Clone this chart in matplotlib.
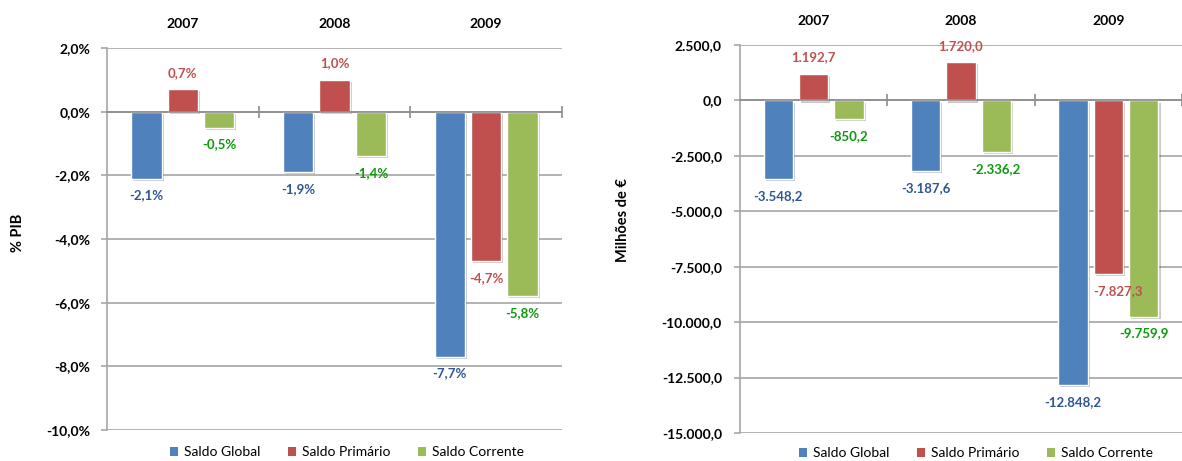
# Saldos orçamentais 2007-2009: % PIB e milhões de euros

import numpy as np
import matplotlib.pyplot as plt
import matplotlib.patheffects as pe
from matplotlib.patches import Patch
from matplotlib.ticker import FixedLocator, FuncFormatter

plt.rcParams['font.family'] = ['Lato', 'DejaVu Sans']

# Data
years = ["2007", "2008", "2009"]
series = ["Saldo Global", "Saldo Primário", "Saldo Corrente"]
pib_global = [-2.1, -1.9, -7.7]
pib_primario = [0.7, 1.0, -4.7]
pib_corrente = [-0.5, -1.4, -5.8]
eur_global = [-3548.2, -3187.6, -12848.2]
eur_primario = [1192.7, 1720.0, -7827.3]
eur_corrente = [-850.2, -2336.2, -9759.9]

bar_colors = ["#4F81BD", "#C0504D", "#9BBB59"]
label_colors = ["#2F5597", "#C0504D", "#0B9A0B"]
grid_col = "#A6A6A6"


def fmt_pt(v, dec=1):
    s = f"{v:,.{dec}f}"
    return s.replace(",", "X").replace(".", ",").replace("X", ".")


def draw_panel(ax, data, ylim, ystep, tick_fmt, lab_fmt, xmax, tick_pad, shifts=None):
    shifts = shifts or {}
    x = np.arange(len(years))
    shadow = [pe.SimplePatchShadow(offset=(1.5, -1.5), alpha=0.25), pe.Normal()]
    for i, vals in enumerate(data):
        pos = x + (i - 1) * 0.24
        bars = ax.bar(pos, vals, width=0.2, color=bar_colors[i],
                      edgecolor="white", linewidth=1.0, zorder=3)
        for b in bars:
            b.set_path_effects(shadow)
        for j, (px, v) in enumerate(zip(pos, vals)):
            off = 12 if v > 0 else -12
            dx = shifts.get((i, j), 0)
            ax.annotate(lab_fmt(v), xy=(px, v), xytext=(dx, off),
                        textcoords="offset points", ha="center", va="center",
                        fontsize=9.5, fontweight="bold", color=label_colors[i],
                        zorder=6)

    ax.set_xlim(-0.5, xmax)
    ax.set_ylim(*ylim)
    ax.yaxis.set_major_locator(FixedLocator(np.arange(ylim[0], ylim[1] + ystep / 2, ystep)))
    ax.yaxis.set_major_formatter(FuncFormatter(lambda v, p: tick_fmt(v)))
    ax.grid(axis="y", color=grid_col, linewidth=1.2, zorder=0)
    ax.set_axisbelow(True)

    for s in ["top", "right"]:
        ax.spines[s].set_visible(False)
    ax.spines["left"].set_color(grid_col)
    ax.spines["left"].set_linewidth(1.2)
    ax.spines["bottom"].set_position(("data", 0))
    ax.spines["bottom"].set_color("#8C8C8C")
    ax.spines["bottom"].set_linewidth(1.2)
    ax.spines["bottom"].set_zorder(4)

    ax.set_xticks([])
    ax.set_xticks([0.5, 1.5, 2.5], minor=True)
    ax.tick_params(axis="x", which="minor", direction="inout", length=8,
                   width=1.2, color="#8C8C8C", labelbottom=False)
    ax.tick_params(axis="y", length=4, width=1.2, color=grid_col, pad=tick_pad,
                   labelsize=10)
    for t in ax.get_yticklabels():
        t.set_fontweight("bold")

    for i, yr in enumerate(years):
        ax.annotate(yr, xy=(i, 1), xycoords=("data", "axes fraction"),
                    xytext=(0, 17), textcoords="offset points",
                    ha="center", va="center", fontsize=10, fontweight="bold")


fig = plt.figure(figsize=(11.82, 4.61), dpi=100)

ax1 = fig.add_axes([107 / 1182, 1 - 430 / 461, 455 / 1182, 382 / 461])
draw_panel(ax1, [pib_global, pib_primario, pib_corrente], (-10, 2), 2,
           lambda v: fmt_pt(v) + "%", lambda v: fmt_pt(v) + "%", 2.5, 8)

ax2 = fig.add_axes([740 / 1182, 1 - 433 / 461, 442 / 1182, 388 / 461])
draw_panel(ax2, [eur_global, eur_primario, eur_corrente], (-15000, 2500), 2500,
           fmt_pt, fmt_pt, 2.45, 9, shifts={(1, 2): 7})

fig.text(18 / 1182, 1 - 233 / 461, "% PIB", rotation=90, ha="center",
         va="center", fontsize=10.5, fontweight="bold")
fig.text(623 / 1182, 1 - 220 / 461, "Milhões de €", rotation=90, ha="center",
         va="center", fontsize=10.5, fontweight="bold")

handles = [Patch(facecolor=c, edgecolor="none") for c in bar_colors]
leg_kw = dict(ncol=3, frameon=False, fontsize=10, handlelength=0.6,
              handleheight=0.6, handletextpad=0.4, columnspacing=2.0,
              loc="center")
fig.legend(handles, series, bbox_to_anchor=(347 / 1182, 1 - 452 / 461), **leg_kw)
fig.legend(handles, series, bbox_to_anchor=(976 / 1182, 1 - 453 / 461), **leg_kw)

fig.savefig("out.png", dpi=100)
